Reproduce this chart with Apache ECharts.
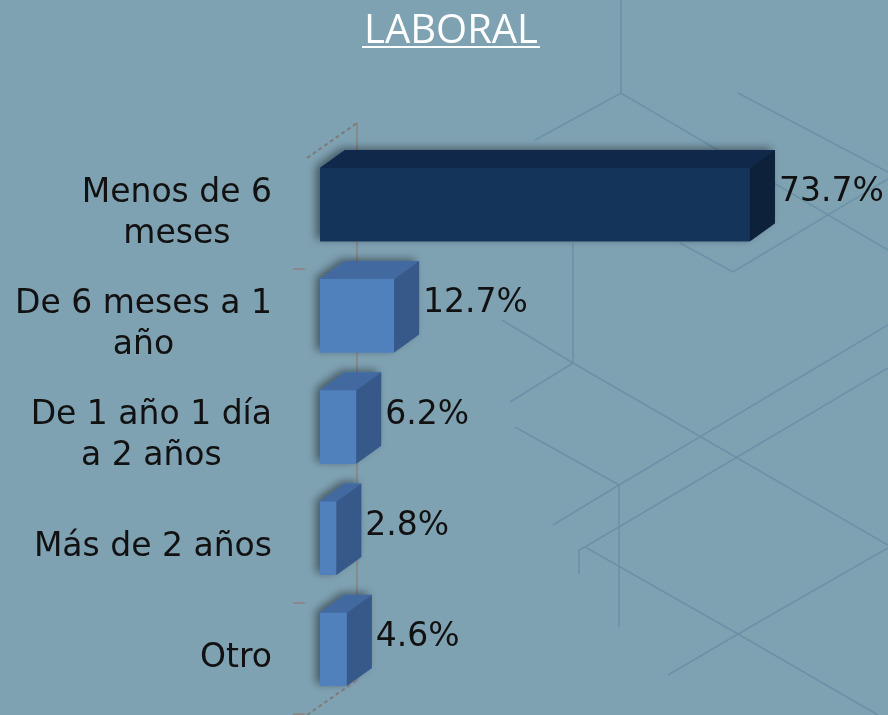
<!DOCTYPE html>
<html>
<head>
<meta charset="utf-8">
<script src="https://cdn.jsdelivr.net/npm/echarts@6/dist/echarts.min.js"></script>
<style>
  html, body { margin: 0; padding: 0; }
  #main { width: 888px; height: 715px; }
</style>
</head>
<body>
<div id="main"></div>
<script>
var categories = ['Menos de 6\nmeses', 'De 6 meses a 1\naño', 'De 1 año 1 día\na 2 años', 'Más de 2 años', 'Otro'];
var values = [73.7, 12.7, 6.2, 2.8, 4.6];

// profundidad del efecto 3D
var DX = 25, DY = -18;
var DARK = { front: '#153459', top: '#10284a', side: '#0d213b' };
var LIGHT = { front: '#5081bd', top: '#426aa0', side: '#37598a' };
var BG_LINE = '#6b91a6';

var myChart = echarts.init(document.getElementById('main'));

function renderBar(params, api) {
    var idx = api.value(1);
    var val = api.value(0);
    var p0 = api.coord([0, idx]);
    var p1 = api.coord([val, idx]);
    var h = api.size([0, 1])[1] * 0.66;
    var x0 = p0[0], x1 = p1[0];
    var y0 = p0[1] - h / 2, y1 = p0[1] + h / 2;
    var c = idx === 0 ? DARK : LIGHT;
    return {
        type: 'group',
        children: [
            {
                type: 'polygon',
                shape: { points: [[x0, y0], [x0 + DX, y0 + DY], [x1 + DX, y0 + DY], [x1 + DX, y1 + DY], [x1, y1], [x0, y1]] },
                style: { fill: c.front, shadowBlur: 8, shadowColor: 'rgba(0,0,0,0.45)', shadowOffsetX: -4, shadowOffsetY: -2 }
            },
            {
                type: 'rect',
                shape: { x: x0, y: y0, width: x1 - x0, height: h },
                style: { fill: c.front }
            },
            {
                type: 'polygon',
                shape: { points: [[x0, y0], [x0 + DX, y0 + DY], [x1 + DX, y0 + DY], [x1, y0]] },
                style: { fill: c.top }
            },
            {
                type: 'polygon',
                shape: { points: [[x1, y0], [x1 + DX, y0 + DY], [x1 + DX, y1 + DY], [x1, y1]] },
                style: { fill: c.side }
            },
            {
                type: 'text',
                style: {
                    x: x1 + DX + 4,
                    y: p0[1] + DY / 2 - 3,
                    text: val.toFixed(1) + '%',
                    fill: '#111',
                    font: '33px "DejaVu Sans"',
                    align: 'left',
                    verticalAlign: 'middle'
                }
            }
        ]
    };
}

function bgLine(pts) {
    return { type: 'polyline', z: 0, silent: true, shape: { points: pts }, style: { stroke: BG_LINE, lineWidth: 1.5, fill: null } };
}

var option = {
    backgroundColor: '#7fa2b3',
    title: {
        text: 'LABORAL',
        left: 359,
        top: 7,
        textStyle: { color: '#ffffff', fontSize: 40, fontFamily: 'Open Sans', fontWeight: 'normal' }
    },
    graphic: [
        bgLine([[621, 0], [621, 93]]),
        bgLine([[535, 140], [621, 93], [888, 250]]),
        bgLine([[738, 93], [888, 172]]),
        bgLine([[680, 243], [733, 272], [888, 179]]),
        bgLine([[573, 243], [573, 363]]),
        bgLine([[502, 320], [573, 363], [888, 545]]),
        bgLine([[573, 363], [510, 402]]),
        bgLine([[515, 427], [619, 485]]),
        bgLine([[553, 525], [619, 485], [888, 325]]),
        bgLine([[619, 485], [619, 627]]),
        bgLine([[579, 574], [579, 550], [585, 547], [888, 368]]),
        bgLine([[585, 547], [738, 634], [878, 715]]),
        bgLine([[668, 675], [738, 634], [888, 548]]),
        { type: 'line', z: 5, shape: { x1: 362, y1: 47, x2: 540, y2: 47 }, style: { stroke: '#ffffff', lineWidth: 2 } },
        { type: 'line', z: 5, shape: { x1: 307, y1: 158, x2: 357, y2: 123 }, style: { stroke: '#7c7c7c', lineWidth: 2, lineDash: [4, 3] } },
        { type: 'line', z: 5, shape: { x1: 307, y1: 715, x2: 357, y2: 680 }, style: { stroke: '#7c7c7c', lineWidth: 2, lineDash: [4, 3] } }
    ],
    grid: [
        { left: 320, right: 43, top: 149, height: 556 },
        { left: 305, right: 43, top: 158, height: 556 },
        { left: 357, right: 43, top: 123, height: 557 }
    ],
    xAxis: [
        { type: 'value', gridIndex: 0, min: 0, max: 90, show: false },
        { type: 'value', gridIndex: 1, min: 0, max: 90, show: false },
        { type: 'value', gridIndex: 2, min: 0, max: 90, show: false }
    ],
    yAxis: [
        { type: 'category', gridIndex: 0, data: categories, inverse: true, show: false },
        {
            type: 'category', gridIndex: 1, data: categories, inverse: true,
            axisLine: { show: false },
            axisTick: {
                show: true, length: 12,
                interval: function (index) { return index === 1 || index === 4; },
                lineStyle: { color: '#8a8a8a', width: 2 }
            },
            axisLabel: {
                margin: 33,
                interval: 0,
                formatter: function (v) {
                    return v.split('\n').map(function (s) { return '{c|' + s + '}'; }).join('\n');
                },
                rich: {
                    c: { align: 'center', fontSize: 33, fontFamily: 'DejaVu Sans', color: '#111', lineHeight: 41 }
                }
            },
            splitLine: { show: false }
        },
        {
            type: 'category', gridIndex: 2, data: categories, inverse: true,
            axisLine: { show: true, lineStyle: { color: '#8a8a8a', width: 2 } },
            axisTick: { show: false },
            axisLabel: { show: false }
        }
    ],
    series: [{
        type: 'custom',
        xAxisIndex: 0,
        yAxisIndex: 0,
        renderItem: renderBar,
        encode: { x: 0, y: 1 },
        data: values.map(function (v, i) { return [v, i]; }),
        z: 3
    }]
};

myChart.setOption(option);
</script>
</body>
</html>
